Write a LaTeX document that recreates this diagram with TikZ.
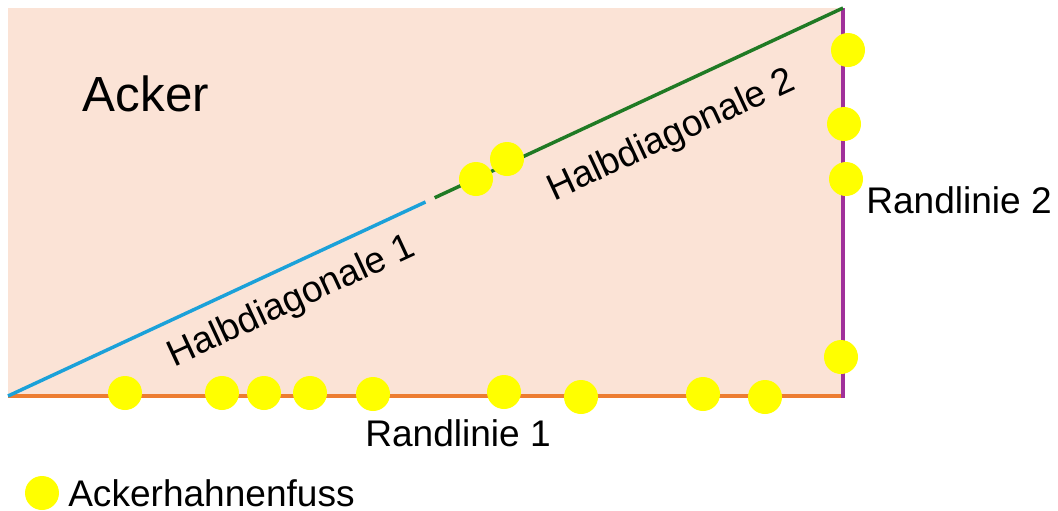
\documentclass[tikz,border=0pt]{standalone}
\usepackage{fontspec}
\setmainfont{Liberation Sans}
\usetikzlibrary{calc}
\definecolor{field}{HTML}{FBE3D6}
\definecolor{edgeone}{HTML}{ED7D31}
\definecolor{edgetwo}{HTML}{A0309A}
\definecolor{diagone}{HTML}{1BA1D9}
\definecolor{diagtwo}{HTML}{207A24}
\definecolor{dotyellow}{HTML}{FFFF00}
\begin{document}
\begin{tikzpicture}[x=0.75pt,y=-0.75pt,
  dot/.style={circle,fill=dotyellow,minimum size=25.5pt,inner sep=0pt},
  lbl/.style={font=\fontsize{27.8}{30}\selectfont,inner sep=0pt},
  border/.style={line width=3pt},
  diag/.style={line width=2.6pt}]
\useasboundingbox (0,0) rectangle (1058,511);
\coordinate (A) at (8,396);
\coordinate (B) at (845,396);
\coordinate (C) at (843,8);
\coordinate (D) at (8,8);
\coordinate (E) at (843,398);
\fill[field] (D) rectangle (B);
\draw[border,edgeone] (A) -- (B);
\draw[border,edgetwo] (C) -- (E);
\draw[diag,diagone] (A) -- ($(A)!0.5!(C)$);
\draw[diag,diagtwo] ($(A)!0.511!(C)$) -- (C);
% dots on Randlinie 1
\node[dot] (b1) at (125,393) {};
\node[dot] (b2) at (222,393) {};
\node[dot] (b3) at (264,393) {};
\node[dot] (b4) at (310,393) {};
\node[dot] (b5) at (373,394) {};
\node[dot] (b6) at (504,392) {};
\node[dot] (b7) at (581,397) {};
\node[dot] (b8) at (703,394) {};
\node[dot] (b9) at (765,397) {};
% dots on Randlinie 2
\node[dot] (r1) at (848,50) {};
\node[dot] (r2) at (844,124) {};
\node[dot] (r3) at (846,179) {};
\node[dot] (r4) at (841,357) {};
% dots on diagonal
\node[dot] (d1) at (476,179) {};
\node[dot] (d2) at (507,159) {};
% labels
\node[lbl,font=\fontsize{37}{40}\selectfont] (acker) at (146,94) {Acker};
\node[lbl] (rl2) at (959,200) {Randlinie 2};
\node[lbl] (rl1) at (458,433) {Randlinie 1};
\node[lbl,rotate=24.9] (hd1) at (292,302) {Halbdiagonale 1};
\node[lbl,rotate=24.9] (hd2) at (672,136) {Halbdiagonale 2};
% legend
\node[dot] (leg) at (42,493) {};
\node[lbl,anchor=west] (legt) at (68,493) {Ackerhahnenfuss};
\end{tikzpicture}
\end{document}
